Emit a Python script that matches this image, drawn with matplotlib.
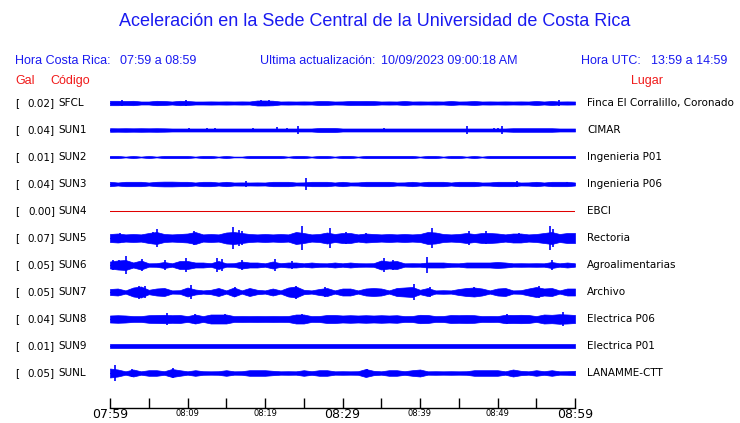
"""
Aceleración en la Sede Central de la UCR — sismogramas de una hora
"""

import matplotlib
matplotlib.use("Agg")
import matplotlib.pyplot as plt
import matplotlib.transforms as mtransforms
import numpy as np

W, H = 740, 423
BLUE_TXT = "#1a1af0"
RED_TXT = "#f01a1a"
TRACE = "#0000ff"

stations = ["SFCL", "SUN1", "SUN2", "SUN3", "SUN4", "SUN5",
            "SUN6", "SUN7", "SUN8", "SUN9", "SUNL"]
pga = [0.02, 0.04, 0.01, 0.04, 0.00, 0.07, 0.05, 0.05, 0.04, 0.01, 0.05]
places = ["Finca El Corralillo, Coronado", "CIMAR", "Ingenieria P01",
          "Ingenieria P06", "EBCI", "Rectoria", "Agroalimentarias",
          "Archivo", "Electrica P06", "Electrica P01", "LANAMME-CTT"]

tick_labels = ["07:59", "08:09", "08:19", "08:29", "08:39", "08:49", "08:59"]
big_ticks = ["07:59", "08:29", "08:59"]

# envelope half-height (px) per minute, 07:59 .. 08:59
env_sfcl = [2.2, 2.2, 2.0, 2.2, 1.5, 1.5, 2.2, 2.0, 1.5, 2.2,
            2.0, 1.5, 1.5, 1.6, 1.5, 1.6, 1.5, 1.6, 1.5, 2.5,
            2.5, 2.3, 1.5, 1.6, 1.5, 1.6, 1.5, 2.0, 1.9, 1.5,
            1.6, 2.0, 1.9, 2.0, 1.9, 1.5, 1.6, 1.5, 2.0, 1.5,
            1.6, 1.5, 1.6, 1.5, 2.0, 1.5, 1.6, 2.0, 1.5, 1.6,
            1.5, 1.6, 1.5, 1.6, 1.5, 2.0, 1.5, 2.0, 1.5, 1.6, 1.5]
env_sun1 = [1.8, 1.7, 1.8, 1.7, 1.8, 1.7, 1.8, 1.7, 1.5, 1.5,
            1.5, 1.5, 1.5, 1.5, 1.5, 1.5, 1.5, 1.5, 1.5, 1.5,
            1.5, 1.5, 1.5, 1.5, 1.5, 1.5, 1.5, 2.0, 2.0, 2.0,
            1.5, 1.5, 1.5, 1.5, 1.5, 1.5, 1.5, 1.5, 1.5, 1.5,
            1.5, 1.5, 1.5, 1.5, 1.5, 1.5, 1.5, 1.5, 1.5, 1.5,
            1.5, 1.5, 1.8, 1.8, 1.8, 1.8, 1.8, 1.8, 1.5, 1.5, 1.5]
env_sun2 = [1.1, 1.1, 0.4, 1.1, 0.4, 1.1, 0.4, 1.1, 1.1, 1.1,
            1.1, 0.4, 1.1, 1.1, 0.4, 1.1, 0.4, 0.4, 1.1, 1.1,
            1.1, 1.1, 1.1, 0.4, 1.1, 1.1, 0.4, 1.1, 1.1, 0.4,
            1.1, 1.1, 0.4, 1.1, 1.1, 1.1, 1.1, 1.1, 1.1, 1.1,
            0.4, 1.1, 1.1, 0.4, 1.1, 1.1, 0.4, 1.1, 0.4, 1.1,
            1.1, 1.1, 1.1, 1.1, 1.1, 1.1, 1.1, 1.1, 1.1, 1.1, 1.1]
env_sun3 = [2.2, 1.5, 2.2, 2.2, 2.2, 1.5, 2.2, 2.4, 2.4, 2.2,
            2.2, 1.5, 2.2, 2.2, 1.5, 2.2, 1.5, 1.6, 1.5, 1.6,
            1.5, 2.2, 2.2, 2.2, 1.5, 1.6, 2.2, 2.2, 2.2, 1.5,
            2.2, 1.5, 1.6, 2.2, 2.2, 2.2, 2.2, 1.5, 1.6, 2.2,
            1.5, 2.2, 2.2, 2.2, 1.5, 2.2, 2.2, 2.2, 1.5, 1.6,
            2.2, 2.2, 2.2, 1.5, 1.6, 2.2, 1.5, 2.2, 2.2, 2.2, 1.5]
env_sun4 = [0.0] * 61
env_sun5 = [4.0, 4.5, 3.6, 4.0, 3.6, 5.0, 6.0, 4.0, 3.6, 4.0,
            4.5, 6.0, 3.6, 4.0, 3.6, 5.5, 6.0, 5.0, 4.0, 3.6,
            4.0, 3.6, 4.0, 3.6, 6.0, 5.0, 3.6, 4.0, 5.5, 4.0,
            5.0, 5.0, 3.6, 4.5, 4.0, 3.6, 4.0, 3.6, 4.0, 3.6,
            4.0, 6.0, 5.5, 4.0, 3.6, 4.0, 5.0, 4.0, 5.0, 5.0,
            4.5, 3.6, 4.5, 4.5, 3.6, 4.0, 5.0, 6.0, 4.0, 5.0, 5.0]
env_sun6 = [3.5, 4.5, 5.0, 2.5, 4.5, 1.7, 1.8, 3.0, 1.7, 4.0,
            4.0, 2.5, 2.5, 1.8, 4.0, 1.7, 1.8, 3.5, 2.5, 2.5,
            1.7, 3.5, 1.8, 2.5, 2.5, 1.7, 2.5, 1.8, 1.7, 2.5,
            1.7, 2.5, 1.8, 1.7, 1.8, 4.5, 3.5, 4.0, 1.7, 1.8,
            1.7, 2.5, 2.5, 2.5, 1.8, 1.7, 2.5, 2.5, 2.5, 2.5,
            3.0, 2.5, 1.7, 1.8, 1.7, 1.8, 1.7, 3.0, 1.7, 2.5, 1.7]
env_sun7 = [3.0, 3.5, 1.6, 4.5, 5.5, 2.2, 3.5, 4.0, 1.6, 1.8,
            4.5, 2.5, 1.6, 2.2, 4.0, 1.6, 4.5, 1.6, 4.0, 2.2,
            1.6, 3.5, 1.6, 4.5, 5.5, 2.2, 1.6, 3.0, 4.0, 1.6,
            3.5, 3.5, 1.6, 3.5, 4.0, 3.5, 1.6, 4.0, 4.5, 5.0,
            2.2, 4.0, 1.6, 1.8, 1.6, 3.0, 4.0, 4.5, 3.5, 1.6,
            3.5, 4.0, 1.6, 1.8, 3.5, 5.0, 3.5, 4.0, 1.6, 3.5, 3.5]
env_sun8 = [3.5, 3.8, 3.5, 2.9, 2.9, 3.8, 4.0, 4.2, 3.8, 4.0,
            2.9, 4.5, 2.9, 4.5, 4.5, 4.5, 2.9, 3.0, 2.9, 3.0,
            2.9, 3.0, 2.9, 3.0, 4.5, 4.5, 2.9, 3.0, 4.0, 4.0,
            3.5, 3.8, 3.5, 3.8, 3.5, 3.8, 3.5, 3.8, 2.9, 3.0,
            4.2, 4.0, 2.9, 3.0, 4.0, 3.8, 4.0, 3.8, 2.9, 3.0,
            2.9, 4.2, 4.0, 4.2, 4.0, 2.9, 4.5, 4.2, 4.8, 4.5, 4.0]
env_sun9 = [1.8] * 61
env_sunl = [4.5, 3.5, 1.7, 3.5, 1.7, 2.8, 2.8, 1.8, 4.0, 2.8,
            1.7, 2.8, 1.8, 1.7, 1.8, 2.8, 1.7, 1.8, 2.8, 2.8,
            2.8, 2.2, 1.7, 1.8, 1.7, 2.8, 1.8, 2.8, 2.8, 1.7,
            1.8, 1.7, 1.8, 4.0, 2.2, 1.7, 2.8, 2.8, 1.8, 2.8,
            3.5, 1.7, 1.8, 1.7, 1.8, 1.7, 1.8, 2.8, 2.8, 2.8,
            2.8, 1.7, 3.5, 2.2, 1.7, 2.8, 1.8, 2.8, 1.7, 1.8, 2.2]

# isolated peaks: (minute, half-height px)
spk_sfcl = [(19.5, 3.2), (20.5, 3.0), (57.9, 2.8), (1.5, 2.6), (9.8, 2.6)]
spk_sun1 = [(10.2, 2.0), (12.5, 2.0), (13.5, 2.0), (18.5, 2.0), (21.6, 2.5),
            (22.9, 2.0), (24.3, 4.3), (35.3, 2.2), (46.0, 4.3), (49.5, 2.2),
            (50.0, 2.2), (50.6, 4.3)]
spk_sun2 = []
spk_sun3 = [(17.5, 2.8), (25.3, 6.0), (52.5, 2.8), (59.0, 2.4)]
spk_sun4 = []
spk_sun5 = [(6.0, 9.0), (10.9, 7.0), (15.9, 11.0), (24.8, 12.0), (28.4, 9.5),
            (41.5, 10.0), (46.3, 7.0), (56.8, 12.0), (5.5, 6.0), (17.0, 7.0),
            (57.2, 9.0), (30.5, 6.0), (1.3, 5.0), (16.6, 8.0), (33.0, 5.0),
            (48.5, 6.5), (52.8, 5.5)]
spk_sun6 = [(2.0, 8.7), (1.1, 5.0), (0.4, 5.0), (4.1, 5.7), (7.1, 5.0),
            (9.8, 6.7), (13.8, 6.7), (14.4, 5.7), (17.0, 5.0), (21.3, 5.7),
            (35.3, 7.3), (40.9, 8.3), (57.0, 5.0), (36.5, 5.0), (23.5, 4.0)]
spk_sun7 = [(10.5, 7.3), (3.8, 6.5), (16.1, 5.0), (24.0, 6.5), (27.7, 5.0),
            (39.2, 8.0), (41.3, 5.0), (55.3, 6.0), (4.5, 6.0), (47.0, 5.0)]
spk_sun8 = [(7.3, 5.7), (11.0, 5.0), (14.8, 5.0), (24.8, 5.0), (58.4, 6.7),
            (51.2, 5.0)]
spk_sun9 = []
spk_sunl = [(0.7, 8.3), (8.1, 5.0), (2.8, 4.0), (33.1, 4.0)]

envelopes = [env_sfcl, env_sun1, env_sun2, env_sun3, env_sun4, env_sun5,
             env_sun6, env_sun7, env_sun8, env_sun9, env_sunl]
spikes = [spk_sfcl, spk_sun1, spk_sun2, spk_sun3, spk_sun4, spk_sun5,
          spk_sun6, spk_sun7, spk_sun8, spk_sun9, spk_sunl]

ROW_PX = 27.0  # vertical spacing of the traces, in pixels


def fx(x):
    return x / W


def fy(y):
    return 1 - y / H


def build_chart():
    fig = plt.figure(figsize=(W / 100, H / 100), dpi=100)
    fig.patch.set_facecolor("white")

    # ── header ──
    hdr = dict(family="Liberation Sans", color=BLUE_TXT, fontsize=9, va="center")
    fig.text(fx(375), fy(22), "Aceleración en la Sede Central de la Universidad de Costa Rica",
             family="Liberation Sans", color=BLUE_TXT, fontsize=13, ha="center", va="center")
    fig.text(fx(15), fy(61), "Hora Costa Rica:", **hdr)
    fig.text(fx(120), fy(61), "07:59 a 08:59", **hdr)
    fig.text(fx(260), fy(61), "Ultima actualización:", **hdr)
    fig.text(fx(381), fy(61), "10/09/2023 09:00:18 AM", **hdr)
    fig.text(fx(581), fy(61), "Hora UTC:", **hdr)
    fig.text(fx(651), fy(61), "13:59 a 14:59", **hdr)
    red = dict(family="Liberation Sans", color=RED_TXT, fontsize=9, va="center")
    fig.text(fx(15), fy(81), "Gal", **red)
    fig.text(fx(50), fy(81), "Código", **red)
    fig.text(fx(631), fy(81), "Lugar", **red)

    # ── traces ──
    n = len(stations)
    ax = fig.add_axes([fx(110), fy(103 - ROW_PX / 2 + n * ROW_PX), 465 / W, n * ROW_PX / H])
    ax.set_xlim(0, 60)
    ax.set_ylim(n - 0.5, -0.5)
    ax.axis("off")

    minutes = np.arange(61)
    for i, (env, spk) in enumerate(zip(envelopes, spikes)):
        amp = np.array(env) / ROW_PX
        if amp.max() == 0:
            ax.plot([0, 60], [i, i], color="#e00000", lw=0.75)
            continue
        ax.plot([0, 60], [i, i], color=TRACE, lw=0.75)
        ax.fill_between(minutes, i - amp, i + amp, color=TRACE, lw=0.5)
        if spk:
            t = [s[0] for s in spk]
            a = np.array([s[1] for s in spk]) / ROW_PX
            ax.vlines(t, i - a, i + a, color=TRACE, lw=1.2)

    # row labels
    trans = mtransforms.blended_transform_factory(fig.transFigure, ax.transData)
    lab = dict(family="DejaVu Sans", fontsize=7.5, color="black", va="center", transform=trans)
    for i in range(n):
        ax.text(fx(15), i, "[", **lab)
        ax.text(fx(55), i, f"{pga[i]:.2f}]", ha="right", **lab)
        ax.text(fx(58), i, stations[i], **lab)
        ax.text(fx(587), i, places[i], **lab)

    # ── time axis ──
    axt = fig.add_axes([fx(110), fy(408), 465 / W, 0.0001])
    axt.set_xlim(0, 60)
    axt.set_yticks([])
    for s in ["top", "left", "right"]:
        axt.spines[s].set_visible(False)
    axt.spines["bottom"].set_linewidth(1.0)
    axt.set_xticks(np.arange(0, 61, 5))
    axt.tick_params(axis="x", direction="in", length=7, width=1.0, labelbottom=False)
    ttrans = mtransforms.blended_transform_factory(axt.transData, fig.transFigure)
    for k, lbl in enumerate(tick_labels):
        big = lbl in big_ticks
        axt.text(k * 10, fy(414 if big else 413), lbl, transform=ttrans,
                 ha="center", va="center", family="DejaVu Sans",
                 fontsize=9 if big else 6, color="black")

    fig.savefig("out.png", dpi=100, facecolor="white")


if __name__ == "__main__":
    build_chart()
